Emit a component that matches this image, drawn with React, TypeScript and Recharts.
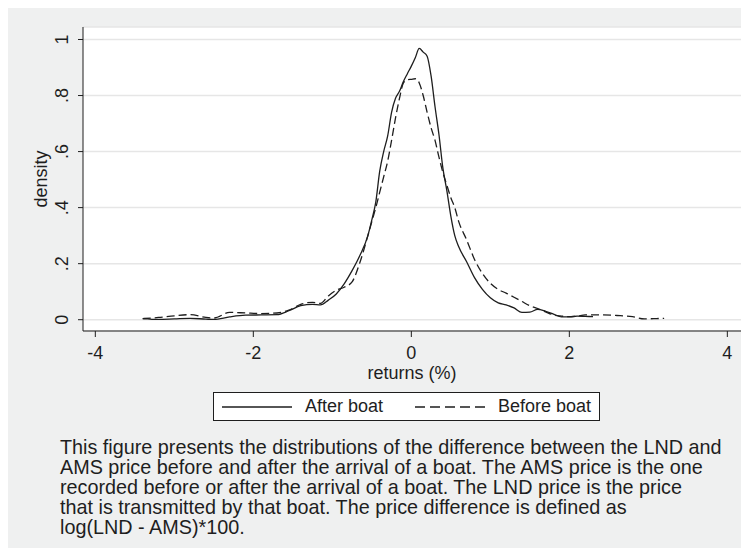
import { LineChart, Line, XAxis, YAxis, CartesianGrid, Legend, Label } from "recharts";

// kernel density estimates of LND-AMS returns (%), read on a common grid
const returnsGrid = [
  -3.4, -3.2, -3.0, -2.8, -2.6, -2.5, -2.3, -2.1, -1.9, -1.7, -1.55, -1.4, -1.25, -1.15, -1.05,
  -0.95, -0.85, -0.75, -0.65, -0.55, -0.5, -0.45, -0.4, -0.35, -0.3, -0.25, -0.2, -0.15, -0.1,
  -0.05, 0, 0.05, 0.1, 0.15, 0.2, 0.25, 0.3, 0.35, 0.4, 0.45, 0.5, 0.55, 0.6, 0.7, 0.8, 0.9, 1.0,
  1.1, 1.2, 1.3, 1.4, 1.5, 1.6, 1.7, 1.8, 1.9, 2.0, 2.1, 2.2, 2.3, 2.4, 2.6, 2.8, 2.95, 3.1, 3.2,
];

const afterBoat: (number | null)[] = [
  0.004, 0.001, 0.003, 0.005, 0.002, 0.001, 0.01, 0.016, 0.017, 0.018, 0.032, 0.05, 0.055, 0.053,
  0.07, 0.092, 0.128, 0.175, 0.23, 0.3, 0.356, 0.42, 0.53, 0.6, 0.655, 0.74, 0.79, 0.815, 0.85,
  0.878, 0.905, 0.935, 0.968, 0.955, 0.94, 0.87, 0.76, 0.66, 0.54, 0.46, 0.37, 0.3, 0.26, 0.207,
  0.15, 0.108, 0.078, 0.06, 0.053, 0.042, 0.026, 0.027, 0.037, 0.03, 0.02, 0.01, 0.01, 0.013,
  0.012, 0.011, null, null, null, null, null, null,
];

const beforeBoat: (number | null)[] = [
  0.004, 0.008, 0.014, 0.018, 0.008, 0.006, 0.026, 0.024, 0.022, 0.024, 0.034, 0.055, 0.062,
  0.058, 0.085, 0.105, 0.116, 0.135, 0.205, 0.3, 0.35, 0.4, 0.455, 0.51, 0.565, 0.64, 0.72, 0.79,
  0.845, 0.856, 0.858, 0.86, 0.845, 0.8, 0.74, 0.685, 0.64, 0.58, 0.525, 0.48, 0.435, 0.4, 0.35,
  0.285, 0.215, 0.165, 0.13, 0.108, 0.095, 0.08, 0.065, 0.05, 0.04, 0.028, 0.017, 0.013, 0.011,
  0.013, 0.017, 0.017, 0.017, 0.015, 0.011, 0.003, 0.004, 0.005,
];

const xTicks = [-4, -2, 0, 2, 4];
const yTicks = [0, 0.2, 0.4, 0.6, 0.8, 1];
const yTickLabels = ["0", ".2", ".4", ".6", ".8", "1"];

const captionLines = [
  "This figure presents the distributions of the difference between the LND and",
  "AMS price before and after the arrival of a boat. The AMS price is the one",
  "recorded before or after the arrival of a boat. The LND price is the price",
  "that is transmitted by that boat. The price difference is defined as",
  "log(LND - AMS)*100.",
];

const data = returnsGrid.map((r, i) => ({ r, after: afterBoat[i], before: beforeBoat[i] }));

const FONT = "'Liberation Sans', Arial, Helvetica, sans-serif";
const INK = "#1e1e1e";

const DensityTick = ({ x, y, payload }: any) => {
  const i = yTicks.indexOf(payload.value);
  const cx = x - 16;
  return (
    <text
      x={cx}
      y={y}
      dy="0.36em"
      transform={`rotate(-90, ${cx}, ${y})`}
      textAnchor="middle"
      fontSize={18}
      fontFamily={FONT}
      fill={INK}
    >
      {i >= 0 ? yTickLabels[i] : payload.value}
    </text>
  );
};

const LegendBox = () => (
  <div
    style={{
      boxSizing: "border-box",
      width: 387,
      height: 29,
      border: `1px solid ${INK}`,
      background: "#fff",
      display: "flex",
      alignItems: "center",
      paddingLeft: 8,
      fontFamily: FONT,
      fontSize: 18,
      color: INK,
      whiteSpace: "nowrap",
    }}
  >
    <svg width={70} height={4} style={{ marginRight: 13 }}>
      <line x1={0} y1={2} x2={70} y2={2} stroke={INK} strokeWidth={1.3} />
    </svg>
    <span>After boat</span>
    <svg width={70} height={4} style={{ marginLeft: 32, marginRight: 13 }}>
      <line x1={0} y1={2} x2={70} y2={2} stroke={INK} strokeWidth={1.3} strokeDasharray="10 5" />
    </svg>
    <span>Before boat</span>
  </div>
);

export default function App() {
  return (
    <div style={{ position: "relative", width: 741, height: 540, background: "#eff0f0", fontFamily: FONT }}>
      <LineChart width={741} height={540} data={data} margin={{ top: 19, right: 8, bottom: 167, left: 0 }}>
        <CartesianGrid horizontal vertical={false} fill="#fff" stroke="#e6e6e6" strokeWidth={1.5} />
        <XAxis
          dataKey="r"
          type="number"
          domain={[-4.156, 4.173]}
          ticks={xTicks}
          allowDataOverflow
          height={50}
          stroke={INK}
          tickSize={6}
          tickMargin={9}
          tick={{ fontSize: 18, fill: INK, fontFamily: FONT }}
        >
          <Label value="returns (%)" position="insideBottom" offset={2} fontSize={18} fill={INK} fontFamily={FONT} />
        </XAxis>
        <YAxis
          type="number"
          domain={[-0.0403, 1.0446]}
          ticks={yTicks}
          allowDataOverflow
          width={75}
          stroke={INK}
          tickSize={5}
          tickMargin={0}
          tick={<DensityTick />}
        >
          <Label
            content={({ viewBox }: any) => {
              const cy = viewBox.y + viewBox.height / 2;
              return (
                <text
                  x={33}
                  y={cy}
                  dy="0.36em"
                  transform={`rotate(-90, 33, ${cy})`}
                  textAnchor="middle"
                  fontSize={18}
                  fontFamily={FONT}
                  fill={INK}
                >
                  density
                </text>
              );
            }}
          />
        </YAxis>
        <Line
          type="monotone"
          dataKey="after"
          name="After boat"
          stroke={INK}
          strokeWidth={1.3}
          dot={false}
          activeDot={false}
          isAnimationActive={false}
        />
        <Line
          type="monotone"
          dataKey="before"
          name="Before boat"
          stroke={INK}
          strokeWidth={1.3}
          strokeDasharray="8 4"
          dot={false}
          activeDot={false}
          isAnimationActive={false}
        />
        <Legend
          layout="horizontal"
          verticalAlign="middle"
          align="center"
          wrapperStyle={{ top: 384, left: 205, width: 387, height: 29 }}
          content={() => <LegendBox />}
        />
      </LineChart>
      <div
        style={{
          position: "absolute",
          left: 52,
          top: 429,
          fontSize: 19.8,
          lineHeight: "20px",
          color: INK,
          whiteSpace: "nowrap",
        }}
      >
        {captionLines.map((line) => (
          <div key={line}>{line}</div>
        ))}
      </div>
    </div>
  );
}
